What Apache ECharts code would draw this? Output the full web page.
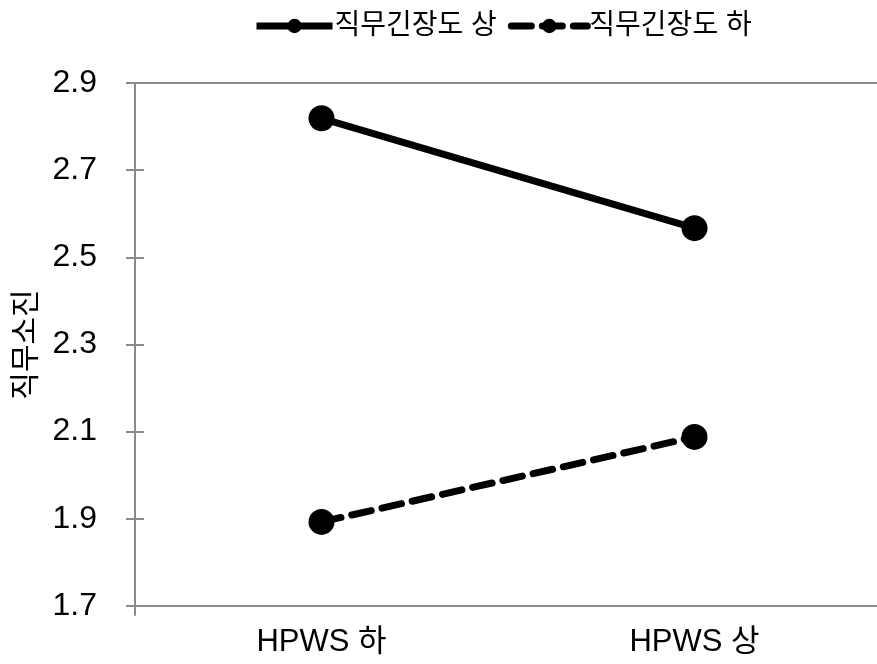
<!DOCTYPE html>
<html><head><meta charset="utf-8">
<script src="https://cdn.jsdelivr.net/npm/echarts@6/dist/echarts.min.js"></script>
<style>html,body{margin:0;padding:0;background:#fff}#c{width:877px;height:664px}</style>
</head><body><div id="c"></div>
<script>
const categories = ['HPWS 하', 'HPWS 상'];
const seriesNames = ['직무긴장도 상', '직무긴장도 하'];
const highStrain = [2.819, 2.567];
const lowStrain = [1.893, 2.088];
const yTicks = { min: 1.7, max: 2.9, interval: 0.2 };
const yName = '직무소진';

const fontLatin = "'Liberation Sans', 'Noto Sans CJK KR', sans-serif";
const axisGray = '#8a8a8a';
const chart = echarts.init(document.getElementById('c'));
chart.setOption({
  animation: false,
  backgroundColor: '#fff',
  legend: {
    top: 7, left: 248,
    itemWidth: 76, itemHeight: 18, itemGap: 11,
    textStyle: { fontSize: 28, color: '#000', fontFamily: fontLatin, padding: [0, 0, 0, -3] },
    data: [
      { name: seriesNames[0], lineStyle: { width: 7, color: '#000' } },
      { name: seriesNames[1], lineStyle: { width: 7, color: '#000', type: [20, 11] } }
    ]
  },
  grid: [
    { left: 135, top: 83, bottom: 58, width: 746, outerBoundsMode: 'none', containLabel: false },
    { left: 135, top: 83, bottom: 49, width: 746, outerBoundsMode: 'none', containLabel: false }
  ],
  xAxis: [{
    type: 'category', data: categories, boundaryGap: true, gridIndex: 0,
    axisLine: { lineStyle: { color: axisGray, width: 2 } },
    axisTick: { show: false },
    axisLabel: { fontSize: 31, color: '#000', fontFamily: fontLatin, margin: 21, interval: 0 }
  }, {
    type: 'category', data: categories, position: 'top', gridIndex: 0,
    axisLine: { show: true, lineStyle: { color: axisGray, width: 2 } },
    axisTick: { show: false }, axisLabel: { show: false }
  }, {
    type: 'category', data: categories, gridIndex: 1, show: false
  }],
  yAxis: [{
    type: 'value', min: yTicks.min, max: yTicks.max, interval: yTicks.interval, gridIndex: 0,
    name: yName, nameLocation: 'middle', nameGap: 90, nameRotate: 90,
    nameTextStyle: { fontSize: 30, color: '#000', fontFamily: fontLatin },
    axisLine: { show: false },
    axisTick: { show: true, length: 9, lineStyle: { color: axisGray, width: 2 } },
    axisLabel: { fontSize: 32, color: '#000', fontFamily: fontLatin, margin: 38,
      formatter: v => v.toFixed(1) },
    splitLine: { show: false }
  }, {
    type: 'value', min: yTicks.min, max: yTicks.max, interval: yTicks.interval, position: 'left', gridIndex: 0,
    axisLine: { show: false },
    axisTick: { show: true, inside: true, length: 9, lineStyle: { color: axisGray, width: 2 } },
    axisLabel: { show: false }, splitLine: { show: false }
  }, {
    type: 'value', gridIndex: 1, position: 'left',
    axisLine: { show: true, lineStyle: { color: axisGray, width: 2 } },
    axisTick: { show: false }, axisLabel: { show: false }, splitLine: { show: false }
  }],
  series: [{
    name: seriesNames[0], type: 'line', data: highStrain,
    symbol: 'circle', symbolSize: 26,
    lineStyle: { color: '#000', width: 7 },
    itemStyle: { color: '#000' }
  }, {
    name: seriesNames[1], type: 'line', data: lowStrain,
    symbol: 'circle', symbolSize: 26,
    lineStyle: { color: '#000', width: 7, type: [20, 11], cap: 'round' },
    itemStyle: { color: '#000' }
  }]
});
</script></body></html>
